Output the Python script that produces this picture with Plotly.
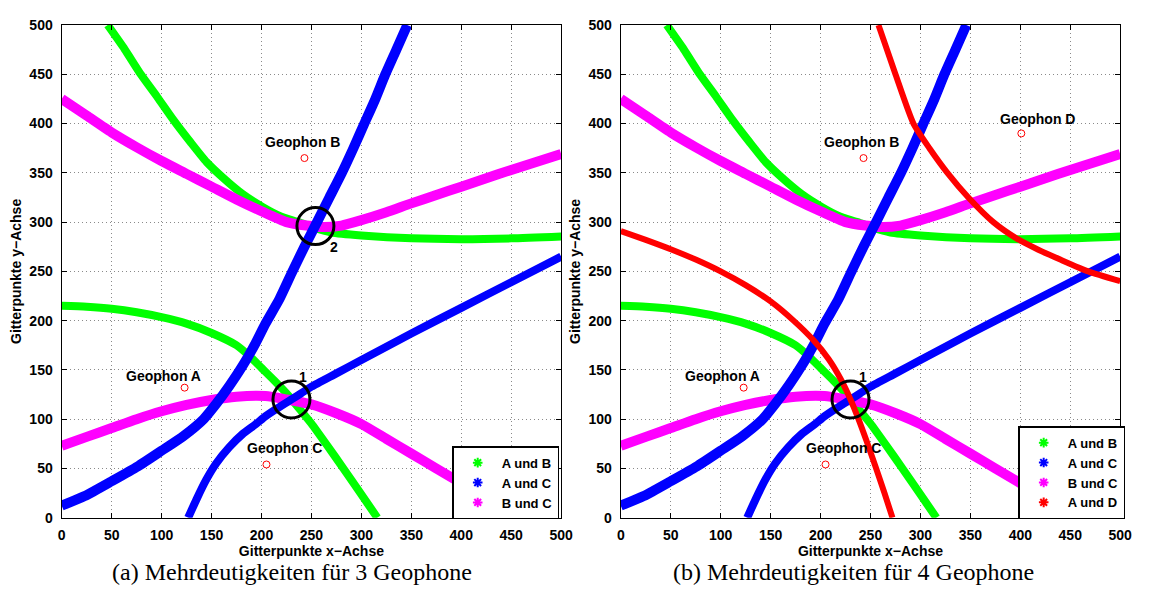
import plotly.graph_objects as go

# ---------------- data ----------------
# Hyperbola branches (TDOA loci) on the 500 x 500 grid
ab_upper_x = [46, 63, 79.5, 96, 112, 129, 145, 161.5, 181, 201, 220, 237, 253, 270, 300, 350, 400, 450, 500]
ab_upper_y = [500, 475.5, 449.5, 426.5, 403.5, 381, 361, 345, 328.5, 315.5, 305.5, 300, 294, 289.5, 286.5, 283.5, 282.7, 283.5, 285.5]
ab_lower_x = [0, 25, 50, 75, 100, 125, 150, 175, 188, 200, 213, 227, 240, 250, 266, 282, 299, 316]
ab_lower_y = [215, 214, 212, 208.5, 203.5, 197, 187.5, 175, 164, 152, 139, 124, 108, 95.5, 73, 50, 25, 0]

ac_b1_x = [0, 23, 50, 76, 100, 122, 142, 155, 168, 181, 194, 204, 218, 231, 243, 255.6, 268, 280.5, 292, 303, 314, 324, 335, 346]
ac_b1_y = [12.2, 22, 37, 52, 68, 83, 100, 116, 134, 154, 177, 197, 222, 250, 275, 300, 325, 350, 375, 400, 425, 450, 475, 500]
ac_b2_x = [126.6, 135, 144.7, 154.6, 167.8, 181, 194, 204, 215, 230, 240, 250, 275, 300, 350, 400, 450, 500]
ac_b2_y = [0, 18.8, 38.6, 55, 71.6, 84.8, 94.7, 103, 110.5, 120, 126.5, 133, 146.5, 160, 187, 213, 239, 265]

bc_upper_x = [0, 25, 50, 75, 100, 125, 150, 175, 200, 225, 245, 262, 280, 300, 325, 350, 375, 400, 425, 450, 475, 500]
bc_upper_y = [425, 408, 391, 376, 362, 349, 336, 323, 311, 300, 296.5, 295, 296.5, 302, 310, 319, 327.5, 336, 344.5, 353, 361, 369]
bc_lower_x = [0, 25, 50, 75, 100, 125, 150, 175, 204, 225, 250, 275, 300, 325, 350, 375, 400, 420, 440]
bc_lower_y = [73, 82, 91, 100, 108, 114.5, 119.5, 122.8, 123.4, 120, 115, 106, 95, 80, 65, 50, 35, 22, 7]

ad_upper_x = [258, 275, 293, 309, 327, 348, 373, 397, 418, 440, 468, 500]
ad_upper_y = [500, 450, 400, 375, 350, 325, 300, 283, 272, 262, 250, 240]
ad_lower_x = [0, 25, 50, 75, 100, 125, 150, 173, 193, 208, 220, 230, 238, 246, 255, 264, 272]
ad_lower_y = [291, 282, 272.5, 262, 250, 236, 219.5, 200, 180, 161, 141, 120, 100, 78, 52, 25, 0]

# Geophone positions and their labels
geo_names_3 = ["Geophon A", "Geophon B", "Geophon C"]
geo_x_3 = [123, 243, 205]
geo_y_3 = [132, 365, 54]
geo_names_4 = ["Geophon A", "Geophon B", "Geophon C", "Geophon D"]
geo_x_4 = [123, 243, 205, 401]
geo_y_4 = [132, 365, 54, 390]
geo_label_x = [102, 241, 223, 417]
geo_label_y = [144, 381, 71, 405]

# Ambiguous intersection points
amb_names_a = ["1", "2"]
amb_x_a = [230, 254]
amb_y_a = [120, 296]
amb_names_b = ["1"]
amb_x_b = [230]
amb_y_b = [120]
amb_label_dx = [12, 19]
amb_label_dy = [23, -21]

captions = ["(a) Mehrdeutigkeiten für 3 Geophone", "(b) Mehrdeutigkeiten für 4 Geophone"]
ticks = [0, 50, 100, 150, 200, 250, 300, 350, 400, 450, 500]

GREEN = "#00ff00"
BLUE = "#0000ff"
MAGENTA = "#ff00ff"
RED = "#ff0000"
BOLD = dict(family="Liberation Sans, Arial, sans-serif", size=14, color="black", weight="bold")
BOLD_LEG = dict(BOLD, size=13)

fig = go.Figure()


def curve(x, y, color, width, xa, ya):
    fig.add_trace(go.Scatter(x=x, y=y, mode="lines", xaxis=xa, yaxis=ya,
                             line=dict(color=color, width=width, shape="spline", smoothing=0.6),
                             showlegend=False, hoverinfo="skip"))


def legend_entry(name, color, legend):
    fig.add_trace(go.Scatter(x=[None], y=[None], mode="markers", name=name, legend=legend,
                             marker=dict(symbol="asterisk-open", size=8, color=color,
                                         line=dict(color=color, width=2))))


panels = [("x", "y", "legend", False), ("x2", "y2", "legend2", True)]
for xa, ya, leg, four in panels:
    curve(ab_upper_x, ab_upper_y, GREEN, 8, xa, ya)
    curve(ab_lower_x, ab_lower_y, GREEN, 8, xa, ya)
    curve(bc_upper_x, bc_upper_y, MAGENTA, 10, xa, ya)
    curve(bc_lower_x, bc_lower_y, MAGENTA, 10, xa, ya)
    curve(ac_b1_x, ac_b1_y, BLUE, 10, xa, ya)
    curve(ac_b2_x, ac_b2_y, BLUE, 8, xa, ya)
    if four:
        curve(ad_upper_x, ad_upper_y, RED, 6, xa, ya)
        curve(ad_lower_x, ad_lower_y, RED, 6, xa, ya)

    gx = geo_x_4 if four else geo_x_3
    gy = geo_y_4 if four else geo_y_3
    gn = geo_names_4 if four else geo_names_3
    fig.add_trace(go.Scatter(x=gx, y=gy, mode="markers", xaxis=xa, yaxis=ya, showlegend=False,
                             marker=dict(symbol="circle-open", size=7, color=RED, line=dict(width=1))))
    for i, name in enumerate(gn):
        fig.add_annotation(x=geo_label_x[i], y=geo_label_y[i], xref=xa, yref=ya, text=name,
                           showarrow=False, font=BOLD)

    ax = amb_x_b if four else amb_x_a
    ay = amb_y_b if four else amb_y_a
    an = amb_names_b if four else amb_names_a
    fig.add_trace(go.Scatter(x=ax, y=ay, mode="markers", xaxis=xa, yaxis=ya, showlegend=False,
                             marker=dict(symbol="circle-open", size=37, color="black",
                                         line=dict(width=3, color="black"))))
    for i, name in enumerate(an):
        fig.add_annotation(x=ax[i] + amb_label_dx[i], y=ay[i] + amb_label_dy[i], xref=xa, yref=ya,
                           text=name, showarrow=False, font=BOLD)

    legend_entry("A und B", GREEN, leg)
    legend_entry("A und C", BLUE, leg)
    legend_entry("B und C", MAGENTA, leg)
    if four:
        legend_entry("A und D", RED, leg)

axis_common = dict(range=[0, 500], tickvals=ticks, showgrid=True, gridcolor="#8a8a8a",
                   griddash="1px,3px", gridwidth=1, zeroline=False, showline=True,
                   linecolor="black", linewidth=1.4, mirror="allticks", ticks="inside",
                   ticklen=5, tickcolor="black", tickfont=BOLD)

x_title = dict(text="Gitterpunkte x−Achse", font=BOLD, standoff=0)
y_title = dict(text="Gitterpunkte y−Achse", font=BOLD, standoff=4)

legend_style = dict(bgcolor="white", bordercolor="black", borderwidth=1.5, font=BOLD_LEG,
                    xanchor="right", yanchor="bottom", itemwidth=38, tracegroupgap=0)

fig.update_layout(
    width=1150, height=606,
    margin=dict(l=0, r=0, t=0, b=0),
    paper_bgcolor="white", plot_bgcolor="white",
    xaxis=dict(domain=[0.0509, 0.4913], anchor="y", title=x_title, ticklabelstandoff=4, **axis_common),
    yaxis=dict(domain=[0.1361, 0.9711], anchor="x", title=y_title, ticklabelstandoff=5, **axis_common),
    xaxis2=dict(domain=[0.5439, 0.9843], anchor="y2", title=x_title, ticklabelstandoff=4, **axis_common),
    yaxis2=dict(domain=[0.1361, 0.9711], anchor="x2", title=y_title, ticklabelstandoff=5, **axis_common),
    legend=dict(x=0.4896, y=0.1336, **legend_style),
    legend2=dict(x=0.9887, y=0.1336, **legend_style),
)

for i, cap in enumerate(captions):
    fig.add_annotation(x=[0.2543, 0.7491][i], y=0.044, xref="paper", yref="paper", text=cap,
                       showarrow=False, xanchor="center", yanchor="middle",
                       font=dict(family="Liberation Serif, Times New Roman, serif", size=24, color="black"))

fig.write_html("out.html")
